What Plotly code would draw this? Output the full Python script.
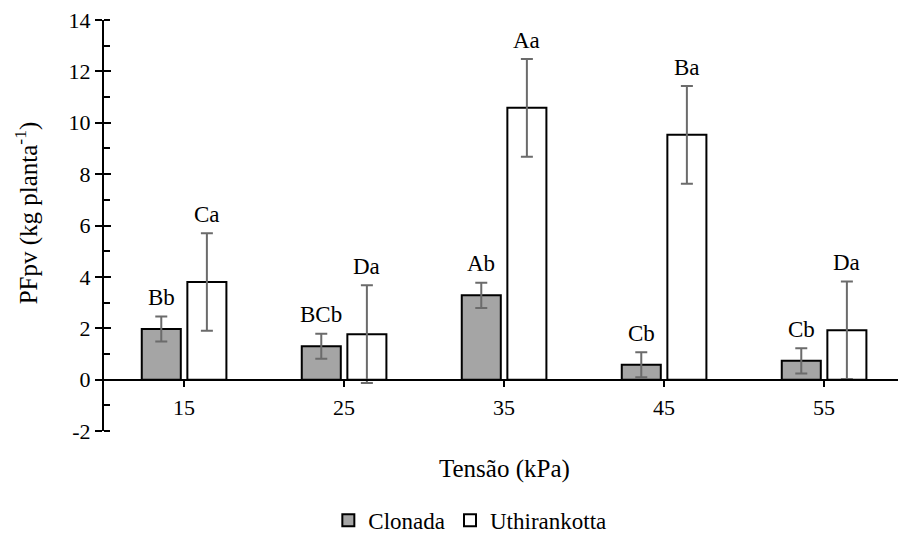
import plotly.graph_objects as go

# Soil water tension treatments (kPa)
tensao = ["15", "25", "35", "45", "55"]

# Fresh fruit yield per plant (kg planta-1)
clonada = [1.97, 1.30, 3.28, 0.58, 0.73]
uthirankotta = [3.80, 1.77, 10.58, 9.53, 1.92]

# Error bar half-lengths
erro_clonada = [0.49, 0.49, 0.49, 0.49, 0.49]
erro_uthirankotta = [1.90, 1.90, 1.90, 1.90, 1.90]

# Mean comparison letters
letras_clonada = ["Bb", "BCb", "Ab", "Cb", "Cb"]
letras_uthirankotta = ["Ca", "Da", "Aa", "Ba", "Da"]

# Y axis ticks (plain hyphen for negatives)
y_ticks = [-2, 0, 2, 4, 6, 8, 10, 12, 14]
y_tick_labels = ["-2", "0", "2", "4", "6", "8", "10", "12", "14"]

FONT = "'Liberation Serif', 'Times New Roman', 'DejaVu Serif', serif"
BAR_W = 0.244
OFF_C = -0.264
OFF_U = 0.021

fig = go.Figure()

fig.add_trace(go.Bar(
    name="Clonada", x=tensao, y=clonada,
    width=BAR_W, offset=OFF_C,
    marker=dict(color="#a5a5a5", line=dict(color="black", width=2)),
    error_y=dict(type="data", array=erro_clonada, visible=True,
                 color="#6b6b6b", thickness=2, width=6),
))
fig.add_trace(go.Bar(
    name="Uthirankotta", x=tensao, y=uthirankotta,
    width=BAR_W, offset=OFF_U,
    marker=dict(color="white", line=dict(color="black", width=2)),
    error_y=dict(type="data", array=erro_uthirankotta, visible=True,
                 color="#6b6b6b", thickness=2, width=6),
))

# Letters above each error bar
annotations = []
for i in range(len(tensao)):
    for vals, errs, lbls, off in (
        (clonada, erro_clonada, letras_clonada, OFF_C),
        (uthirankotta, erro_uthirankotta, letras_uthirankotta, OFF_U),
    ):
        annotations.append(dict(
            x=i + off + BAR_W / 2, y=vals[i] + errs[i],
            xref="x", yref="y", text=lbls[i], showarrow=False,
            yanchor="middle", yshift=19,
            font=dict(family=FONT, size=23, color="black"),
        ))

# Axis titles
annotations.append(dict(
    x=0.505, y=-0.093, xref="paper", yref="paper",
    text="Tensão (kPa)", showarrow=False,
    xanchor="center", yanchor="middle",
    font=dict(family=FONT, size=25, color="black"),
))
annotations.append(dict(
    x=-0.098, y=0.53, xref="paper", yref="paper",
    text="PFpv (kg planta<sup>-1</sup>)", showarrow=False, textangle=-90,
    xanchor="center", yanchor="middle",
    font=dict(family=FONT, size=25, color="black"),
))

fig.update_layout(
    width=898, height=533,
    margin=dict(l=104, r=0, t=20, b=102, autoexpand=False),
    paper_bgcolor="white", plot_bgcolor="white",
    barmode="group",
    font=dict(family=FONT, size=22, color="black"),
    showlegend=True,
    legend=dict(
        orientation="h",
        xref="container", x=0.5232, xanchor="center",
        yref="container", y=0.024, yanchor="middle",
        font=dict(family=FONT, size=23, color="black"),
        itemclick=False, itemdoubleclick=False,
    ),
    annotations=annotations,
    xaxis=dict(
        type="category", range=[-0.5, 4.4625],
        anchor="free", position=0.125,
        showline=True, linecolor="black", linewidth=2,
        ticks="outside", ticklen=6, tickwidth=1.5, tickcolor="black",
        ticklabelstandoff=2,
        showgrid=False, zeroline=False,
        tickfont=dict(family=FONT, size=22, color="black"),
    ),
    yaxis=dict(
        range=[-2, 14], tickmode="array", tickvals=y_ticks, ticktext=y_tick_labels,
        showline=True, linecolor="black", linewidth=2,
        ticks="outside", ticklen=7, tickwidth=2, tickcolor="black",
        minor=dict(ticks="inside", dtick=1, ticklen=6, tickwidth=2, tickcolor="black"),
        showgrid=False, zeroline=False,
        tickfont=dict(family=FONT, size=22, color="black"),
    ),
    yaxis2=dict(
        overlaying="y", side="left", anchor="x",
        range=[-2, 14], tickmode="array", tickvals=y_ticks,
        ticks="inside", ticklen=7, tickwidth=2, tickcolor="black",
        showticklabels=False, showline=False, showgrid=False, zeroline=False,
    ),
)

# Invisible trace to activate the inside major ticks
fig.add_trace(go.Scatter(x=[tensao[0]], y=[0], yaxis="y2", mode="markers",
                         marker=dict(opacity=0), showlegend=False, hoverinfo="skip"))

fig.write_html("out.html")
